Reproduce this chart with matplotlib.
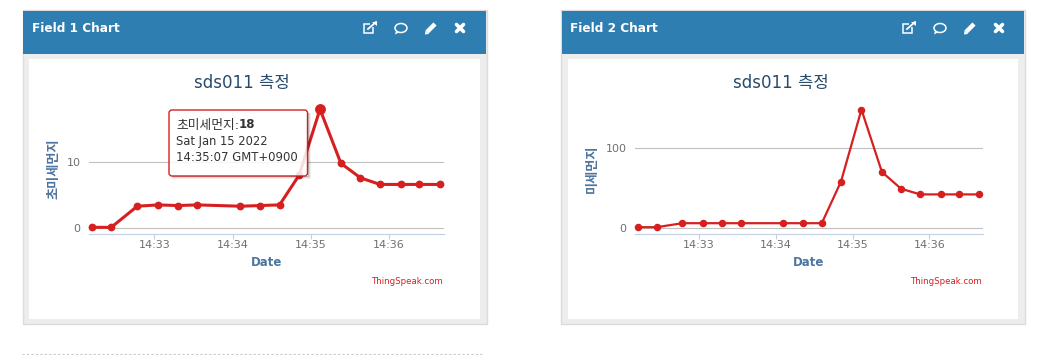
import matplotlib
matplotlib.use('Agg')
import matplotlib.dates as mdates
import matplotlib.pyplot as plt
from matplotlib.patches import Rectangle, FancyBboxPatch, Ellipse, Polygon
from datetime import datetime

plt.rcParams['font.family'] = ['DejaVu Sans', 'Noto Sans CJK KR']

times = ['14:32:12', '14:32:27', '14:32:47', '14:33:03', '14:33:18', '14:33:33',
         '14:34:06', '14:34:21', '14:34:36', '14:34:51', '14:35:07', '14:35:23',
         '14:35:38', '14:35:53', '14:36:09', '14:36:23', '14:36:39']
field1 = [0.1, 0.1, 3.3, 3.5, 3.4, 3.5, 3.3, 3.4, 3.5, 8, 18, 9.8, 7.6, 6.6, 6.6, 6.6, 6.6]
field2 = [1, 1, 6, 6, 6, 6, 6, 6, 6, 58, 148, 70, 49, 42, 42, 42, 42]
yticks1 = [0, 10]
yticks2 = [0, 100]
xtimes = [datetime.strptime('2022-01-15 ' + t, '%Y-%m-%d %H:%M:%S') for t in times]

W, H = 1053, 355
RED = '#d62020'
fig = plt.figure(figsize=(W / 100, H / 100), dpi=100)

# page background in pixel coords
bg = fig.add_axes([0, 0, 1, 1])
bg.set_xlim(0, W)
bg.set_ylim(H, 0)
bg.axis('off')


def icons(dx):
    # external link
    bg.add_patch(Rectangle((364 + dx, 24), 9, 9, fc='none', ec='white', lw=1.1))
    bg.add_patch(Rectangle((370 + dx, 21), 7, 6, fc='#2e7eb2', ec='none'))
    bg.plot([368 + dx, 376 + dx], [29, 22], color='white', lw=1.3)
    bg.add_patch(Polygon([[372 + dx, 22], [377 + dx, 22], [377 + dx, 26]], fc='white', ec='none'))
    # comment
    bg.add_patch(Ellipse((401 + dx, 28), 12, 9, fc='none', ec='white', lw=1.1))
    bg.add_patch(Polygon([[396 + dx, 31], [399 + dx, 32.5], [395 + dx, 34.5]], fc='white', ec='none'))
    # pencil
    bg.plot([427 + dx, 435 + dx], [32, 24], color='white', lw=3.2, solid_capstyle='butt')
    bg.add_patch(Polygon([[425 + dx, 34.5], [425.5 + dx, 30.5], [429 + dx, 34]], fc='white', ec='none'))
    # close
    bg.plot([456.5 + dx, 463.5 + dx], [24.5, 31.5], color='white', lw=2.6, solid_capstyle='round')
    bg.plot([456.5 + dx, 463.5 + dx], [31.5, 24.5], color='white', lw=2.6, solid_capstyle='round')


def panel(x0, x1, name, dx):
    bg.add_patch(Rectangle((x0, 10), x1 - x0, 314, fc='#ededed', ec='#dcdcdc', lw=1))
    bg.add_patch(Rectangle((x0 + 0.5, 10.5), x1 - x0 - 1, 43, fc='#2e7eb2', ec='none'))
    bg.add_patch(Rectangle((x0 + 6.5, 59), x1 - x0 - 13, 260, fc='white', ec='none'))
    bg.text(x0 + 9, 28.5, name, color='white', fontsize=8.7, fontweight='bold', va='center')
    icons(dx)


def chart(left, right, vals, yt, ppu, ylab, ylab_x, lw, ms):
    top, bottom = 95, 234
    ax = fig.add_axes([left / W, 1 - bottom / H, (right - left) / W, (bottom - top) / H])
    ax.patch.set_alpha(0)
    ax.plot(xtimes, vals, color=RED, lw=lw, marker='o', ms=ms, clip_on=False, zorder=3)
    ax.set_xlim(datetime(2022, 1, 15, 14, 32, 10), datetime(2022, 1, 15, 14, 36, 42))
    ax.set_ylim(-6 / ppu, 133 / ppu)
    for s in ['top', 'left', 'right']:
        ax.spines[s].set_visible(False)
    ax.spines['bottom'].set_color('#c0d0e0')
    ax.spines['bottom'].set_linewidth(0.8)
    ax.set_yticks(yt)
    ax.grid(axis='y', color='#c0c0c0', lw=0.8)
    ax.set_axisbelow(True)
    ax.xaxis.set_major_locator(mdates.MinuteLocator())
    ax.xaxis.set_major_formatter(mdates.DateFormatter('%H:%M'))
    ax.tick_params(axis='x', colors='#707070', labelsize=8, length=3.5, width=0.8, color='#c0d0e0', pad=0.5)
    ax.tick_params(axis='y', colors='#707070', labelsize=8, length=0, pad=6)
    ax.set_xlabel('Date', color='#4d759e', fontsize=8.5, fontweight='bold', labelpad=5)
    ax.set_ylabel(ylab, color='#4d759e', fontsize=9.5, fontweight='bold')
    ax.yaxis.set_label_coords((ylab_x - left) / (right - left), (bottom - 169) / (bottom - top))
    return ax


panel(22.5, 486.5, 'Field 1 Chart', 0)
panel(561, 1024.5, 'Field 2 Chart', 539)
bg.plot([22, 482], [354, 354], color='#c8c8c8', lw=0.8, ls=(0, (2, 2)))

bg.text(242, 83, 'sds011 측정', color='#274b6d', fontsize=12, ha='center', va='center')
bg.text(781, 83, 'sds011 측정', color='#274b6d', fontsize=12, ha='center', va='center')
bg.text(444, 281, 'ThingSpeak.com', color=RED, fontsize=6.2, ha='right', va='center')
bg.text(983, 281, 'ThingSpeak.com', color=RED, fontsize=6.2, ha='right', va='center')

ax1 = chart(89, 444, field1, yticks1, 6.6, '초미세먼지', 60, 2.2, 4.6)
ax2 = chart(635, 983, field2, yticks2, 0.8, '미세먼지', 599, 1.6, 4.4)

# hovered point is bigger
ax1.plot(xtimes[10], field1[10], 'o', color=RED, ms=6.8, clip_on=False, zorder=4)

# tooltip on top of everything
fg = fig.add_axes([0, 0, 1, 1])
fg.set_xlim(0, W)
fg.set_ylim(H, 0)
fg.axis('off')
fg.patch.set_alpha(0)
for off, a in [(3, 0.06), (2, 0.09), (1, 0.14)]:
    fg.add_patch(Rectangle((307.5, 113), off, 63 + off, fc='black', ec='none', alpha=a))
    fg.add_patch(Rectangle((172, 176), 135.5, off, fc='black', ec='none', alpha=a))
fg.add_patch(FancyBboxPatch((169, 110), 138.5, 66, boxstyle='round,pad=0,rounding_size=3',
                            fc=(1, 1, 1, 0.85), ec=RED, lw=1))
fg.text(176, 125, '초미세먼지:', color='#333333', fontsize=9.2, va='center')
fg.text(239, 125, '18', color='#333333', fontsize=8.6, fontweight='bold', va='center')
fg.text(176, 141.5, 'Sat Jan 15 2022', color='#333333', fontsize=8.3, va='center')
fg.text(176, 157.5, '14:35:07 GMT+0900', color='#333333', fontsize=8.4, va='center')

fig.savefig('out.png', dpi=100)
